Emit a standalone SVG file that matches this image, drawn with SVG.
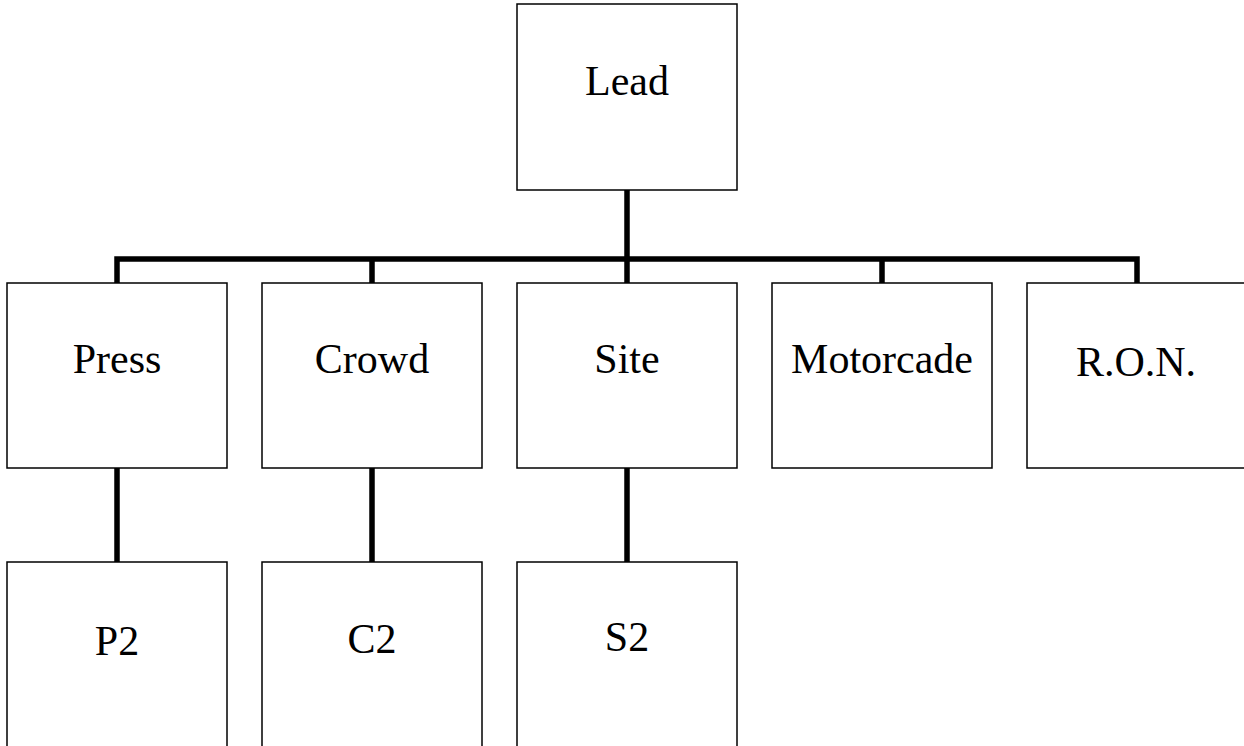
<svg xmlns="http://www.w3.org/2000/svg" width="1244" height="746" viewBox="0 0 1244 746">
<style>
.box{fill:#fff;stroke:#000;stroke-width:1.5}
.lbl{font-family:"Liberation Serif","Times New Roman",serif;font-size:42px;fill:#000;text-anchor:middle}
.con{fill:none;stroke:#000;stroke-width:5.5;stroke-linejoin:miter}
</style>
<rect width="1244" height="746" fill="#fff"/>
<g id="connectors">
<path class="con" d="M117 283V259H1137V283M627 190V283M372 259V283M882 259V283M117 468V562M372 468V562M627 468V562"/>
</g>
<g id="lead"><rect class="box" x="517" y="4" width="220" height="186"/><text class="lbl" x="627" y="95">Lead</text></g>
<g id="press"><rect class="box" x="7" y="283" width="220" height="185"/><text class="lbl" x="117" y="373">Press</text></g>
<g id="crowd"><rect class="box" x="262" y="283" width="220" height="185"/><text class="lbl" x="372" y="373">Crowd</text></g>
<g id="site"><rect class="box" x="517" y="283" width="220" height="185"/><text class="lbl" x="627" y="373">Site</text></g>
<g id="motorcade"><rect class="box" x="772" y="283" width="220" height="185"/><text class="lbl" x="882" y="373">Motorcade</text></g>
<g id="ron"><rect class="box" x="1027" y="283" width="220" height="185"/><text class="lbl" x="1136" y="376">R.O.N.</text></g>
<g id="p2"><rect class="box" x="7" y="562" width="220" height="186"/><text class="lbl" x="117" y="655">P2</text></g>
<g id="c2"><rect class="box" x="262" y="562" width="220" height="186"/><text class="lbl" x="372" y="653">C2</text></g>
<g id="s2"><rect class="box" x="517" y="562" width="220" height="186"/><text class="lbl" x="627" y="651">S2</text></g>
</svg>
